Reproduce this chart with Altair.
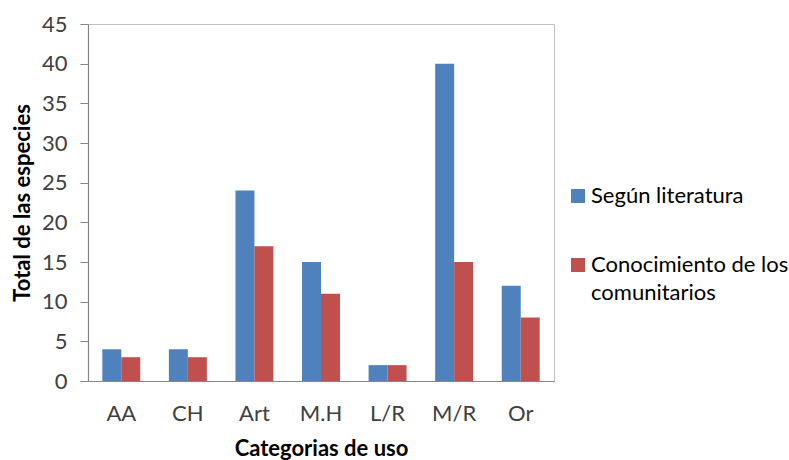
import altair as alt
import pandas as pd

# Use categories and species counts per source
categorias = ["AA", "CH", "Art", "M.H", "L/R", "M/R", "Or"]
segun_literatura = [4, 4, 24, 15, 2, 40, 12]
conocimiento_comunitarios = [3, 3, 17, 11, 2, 15, 8]
series = ["Según literatura", "Conocimiento de los comunitarios"]
colores = ["#4F81BD", "#C0504D"]

rows = []
for cat, a, b in zip(categorias, segun_literatura, conocimiento_comunitarios):
    rows.append({"categoria": cat, "serie": series[0], "total": a})
    rows.append({"categoria": cat, "serie": series[1], "total": b})
df = pd.DataFrame(rows)

FONT = "Lato"
AXIS_GRAY = "#868686"
LABEL_DY = 7  # guide labels sit on an alphabetic baseline pushed down by this much

chart = (
    alt.Chart(df)
    .mark_bar()
    .encode(
        x=alt.X(
            "categoria:N",
            sort=categorias,
            title="Categorias de uso",
            scale=alt.Scale(paddingInner=0.43, paddingOuter=0.215),
            axis=alt.Axis(
                labelAngle=0,
                ticks=False,
                labelPadding=15,
                titlePadding=14,
                domainColor=AXIS_GRAY,
                domainWidth=1.2,
                labelFont=FONT,
                labelFontSize=22,
                labelColor="#404040",
                titleFont=FONT,
                titleFontSize=22,
                titleFontWeight="bold",
                titleColor="#000000",
            ),
        ),
        xOffset=alt.XOffset("serie:N", sort=series),
        y=alt.Y(
            "total:Q",
            title="Total de las especies",
            scale=alt.Scale(domain=[0, 45], nice=False),
            axis=alt.Axis(
                values=list(range(0, 50, 5)),
                grid=False,
                tickSize=8,
                tickColor=AXIS_GRAY,
                domainColor=AXIS_GRAY,
                domainWidth=1.2,
                labelPadding=13,
                labelOffset=-LABEL_DY,
                titlePadding=7,
                labelFont=FONT,
                labelFontSize=22,
                labelColor="#404040",
                titleFont=FONT,
                titleFontSize=22,
                titleFontWeight="bold",
                titleColor="#000000",
            ),
        ),
        color=alt.Color(
            "serie:N",
            sort=series,
            scale=alt.Scale(domain=series, range=colores),
            legend=alt.Legend(
                title=None,
                orient="none",
                legendX=479,
                legendY=161,
                symbolType="square",
                symbolSize=196,
                symbolStrokeWidth=0,
                labelFontSize=22,
                labelFont=FONT,
                labelColor="#000000",
                labelLimit=300,
                rowPadding=47,
                labelBaseline="alphabetic",
                labelOffset=2,
                labelExpr="datum.label == 'Conocimiento de los comunitarios' ? ['Conocimiento de los', 'comunitarios'] : datum.label",
            ),
        ),
    )
    .properties(
        width=466,
        height=357,
        autosize=alt.AutoSizeParams(type="none"),
        padding={"left": 88, "top": 24, "right": 235, "bottom": 79},
    )
    .configure(background="white", style={"guide-label": {"lineHeight": 28, "dy": LABEL_DY}})
    .configure_view(stroke="#BFBFBF", strokeWidth=1)
)

chart.save("out.html", embed_options={"renderer": "svg", "actions": False})
